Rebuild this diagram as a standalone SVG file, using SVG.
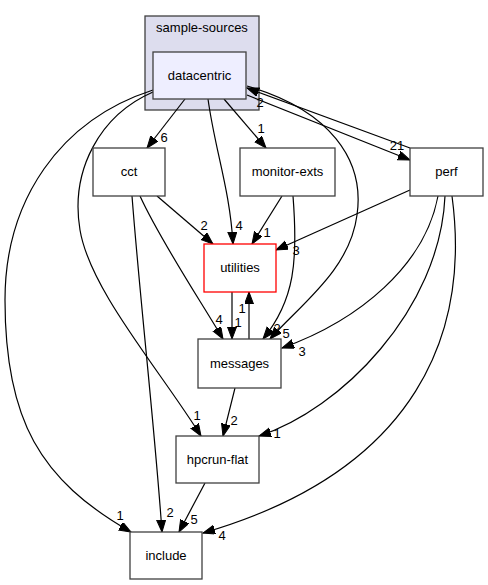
<svg xmlns="http://www.w3.org/2000/svg" width="488" height="585" viewBox="0 0 488 585">
<style>
.node rect{fill:#ffffff;stroke:#404040;stroke-width:1.3}
.t{font-family:"Liberation Sans",Arial,sans-serif;font-size:13px;text-anchor:middle;fill:#000}
.e path{fill:none;stroke:#000;stroke-width:1.2;marker-end:url(#ah)}
.lbl{font-family:"Liberation Sans",Arial,sans-serif;font-size:13px;text-anchor:middle;fill:#000}
</style>
<defs>
<marker id="ah" markerUnits="userSpaceOnUse" markerWidth="13" markerHeight="10" refX="12" refY="4.5" orient="auto">
<path d="M0,0 L12,4.5 L0,9 z" fill="#000" stroke="#000" stroke-width="1"/>
</marker>
</defs>
<rect width="488" height="585" fill="#fff"/>
<g id="cluster_sample-sources">
<rect x="145" y="16" width="114" height="94" fill="#ddddee" stroke="#404040" stroke-width="1.3"/>
<text class="t" x="202" y="32">sample-sources</text>
</g>
<g class="e" id="edges">
<path d="M185,99 L147,148"/>
<path d="M208,99 C215,150 230,190 233,244"/>
<path d="M224,99 L266,148"/>
<path d="M247,95 L410,160"/>
<path d="M410,148 L247,88"/>
<path d="M247,86 C330,110 365,160 357,215 C350,270 300,305 270,339"/>
<path d="M153,92 C100,115 70,170 80,230 C90,290 160,370 201,436"/>
<path d="M153,90 C60,120 5,200 5,300 C5,420 40,480 131,532"/>
<path d="M157,196 L213,244"/>
<path d="M140,196 C160,240 200,300 223,339"/>
<path d="M132,196 C140,300 155,430 162,532"/>
<path d="M282,196 L252,244"/>
<path d="M293,196 C298,260 295,300 263,339"/>
<path d="M410,190 L276,250"/>
<path d="M438,196 C425,265 360,320 282,348"/>
<path d="M445,196 C440,310 340,410 259,436"/>
<path d="M452,196 C470,330 420,470 203,533"/>
<path d="M232,292 L232,339"/>
<path d="M249,339 L249,292"/>
<path d="M235,388 L223,436"/>
<path d="M205,483 L179,532"/>
</g>
<g id="edge-labels">
<text class="lbl" x="164" y="142">6</text>
<text class="lbl" x="239" y="230">4</text>
<text class="lbl" x="261" y="133">1</text>
<text class="lbl" x="260" y="107">2</text>
<text class="lbl" x="397" y="150">21</text>
<text class="lbl" x="204" y="230">2</text>
<text class="lbl" x="267" y="237">1</text>
<text class="lbl" x="296" y="255">3</text>
<text class="lbl" x="219" y="324">4</text>
<text class="lbl" x="242" y="313">1</text>
<text class="lbl" x="238" y="327">1</text>
<text class="lbl" x="277" y="333">2</text>
<text class="lbl" x="286" y="338">5</text>
<text class="lbl" x="302" y="356">3</text>
<text class="lbl" x="197" y="420">1</text>
<text class="lbl" x="234" y="425">2</text>
<text class="lbl" x="277" y="438">1</text>
<text class="lbl" x="120" y="520">1</text>
<text class="lbl" x="170" y="517">2</text>
<text class="lbl" x="194" y="524">5</text>
<text class="lbl" x="222" y="540">4</text>
</g>
<g class="node" id="datacentric">
<rect x="153" y="52" width="93" height="47" style="fill:#eeeeff"/>
<text class="t" x="199.5" y="80">datacentric</text>
</g>
<g class="node" id="cct">
<rect x="93" y="148" width="72" height="48"/>
<text class="t" x="129" y="176">cct</text>
</g>
<g class="node" id="monitor-exts">
<rect x="240" y="148" width="95" height="48"/>
<text class="t" x="287.5" y="176">monitor-exts</text>
</g>
<g class="node" id="perf">
<rect x="410" y="148" width="73" height="48"/>
<text class="t" x="446.5" y="176">perf</text>
</g>
<g class="node" id="utilities">
<rect x="204" y="244" width="72" height="48" style="stroke:#ff0000"/>
<text class="t" x="240" y="272">utilities</text>
</g>
<g class="node" id="messages">
<rect x="198" y="339" width="83" height="49"/>
<text class="t" x="239.5" y="368">messages</text>
</g>
<g class="node" id="hpcrun-flat">
<rect x="176" y="436" width="83" height="47"/>
<text class="t" x="217.5" y="464">hpcrun-flat</text>
</g>
<g class="node" id="include">
<rect x="130" y="532" width="72" height="47"/>
<text class="t" x="166" y="560">include</text>
</g>
</svg>
